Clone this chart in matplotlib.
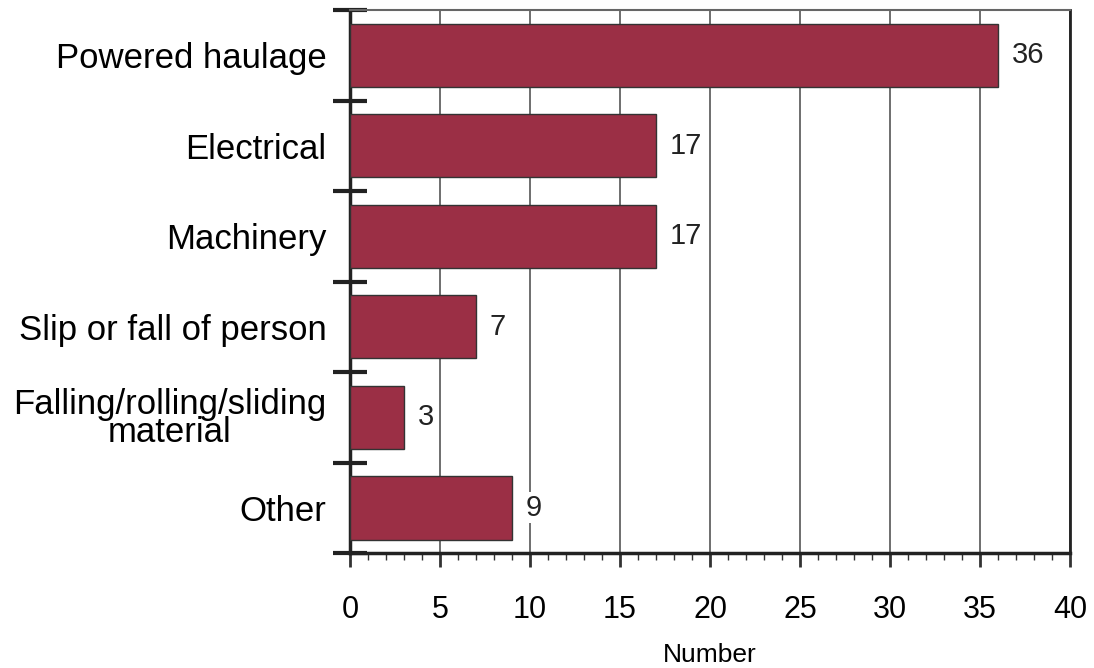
import numpy as np
import matplotlib.pyplot as plt
from matplotlib.ticker import MultipleLocator

# Data
categories = ['Powered haulage', 'Electrical', 'Machinery', 'Slip or fall of person',
              'Falling/rolling/sliding\nmaterial', 'Other']
values = [36, 17, 17, 7, 3, 9]

plt.rcParams['font.family'] = ['Liberation Sans', 'DejaVu Sans']

fig = plt.figure(figsize=(10.94, 6.68), dpi=100)
ax = fig.add_axes([0.320, 0.172, 0.658, 0.813])

y = np.arange(len(categories))
ax.barh(y, values, height=0.7, color='#9B2F45', edgecolor='#333333', linewidth=1, zorder=3)

# value labels
for yi, v in zip(y, values):
    ax.text(v + 0.75, yi, str(v), va='center', ha='left', fontsize=21, color='#222222',
            bbox=dict(facecolor='white', edgecolor='none', pad=1), zorder=4)

ax.set_xlim(0, 40)
ax.set_ylim(len(categories) - 0.5, -0.5)

# gridlines
ax.xaxis.set_major_locator(MultipleLocator(5))
ax.xaxis.set_minor_locator(MultipleLocator(1))
ax.grid(axis='x', which='major', color='#555555', linewidth=1.2, zorder=1)

# y ticks: labels at centers, separators at boundaries
ax.set_yticks(y)
ax.set_yticklabels(categories, fontsize=25, multialignment='center', linespacing=0.8)
ax.set_yticks(np.arange(-0.5, len(categories)), minor=True)
ax.tick_params(axis='y', which='major', length=0, pad=17)
ax.tick_params(axis='y', which='minor', direction='inout', length=25, width=3, color='#222222')

ax.tick_params(axis='x', which='major', direction='out', length=10, width=2, color='#333333',
               labelsize=22, pad=20)
ax.tick_params(axis='x', which='minor', direction='out', length=5, width=1, color='#333333')

for side in ['left', 'bottom']:
    ax.spines[side].set_linewidth(2.5)
    ax.spines[side].set_color('#222222')
ax.spines['right'].set_linewidth(2)
ax.spines['right'].set_color('#222222')
ax.spines['top'].set_linewidth(1.5)
ax.spines['top'].set_color('#666666')

ax.set_xlabel('Number', fontsize=19, labelpad=13)

plt.savefig('out.png', dpi=100)
